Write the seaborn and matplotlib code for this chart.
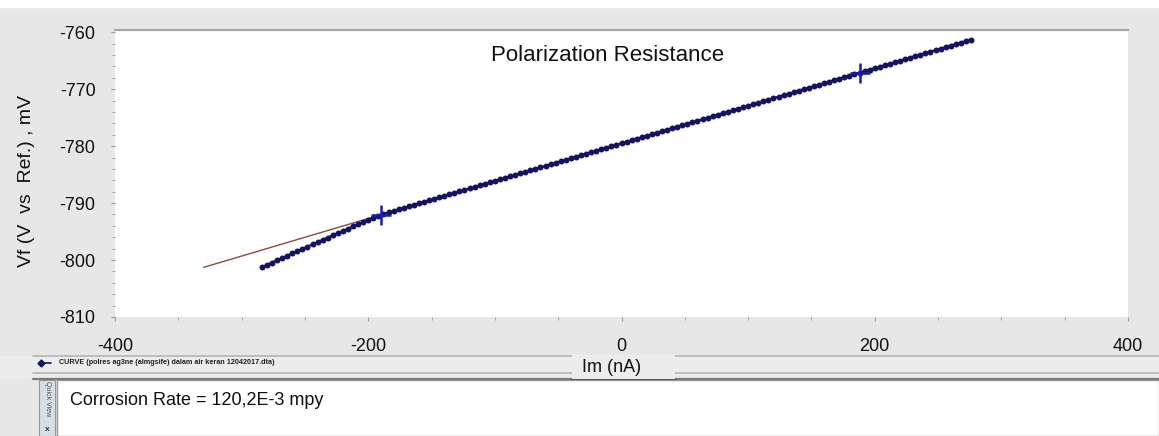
import pandas as pd
import seaborn as sns
import matplotlib.pyplot as plt
from matplotlib.patches import Rectangle
from matplotlib.lines import Line2D

# measured points, current (nA) and potential (mV)
im_na = [
    -284, -280, -276, -272, -268, -264, -260, -256, -252, -248, -244, -240,
    -236, -232, -228, -224, -220, -216, -212, -208, -204, -200, -196, -192,
    -188, -184, -180, -176, -172, -168, -164, -160, -156, -152, -148, -144,
    -140, -136, -132, -128, -124, -120, -116, -112, -108, -104, -100, -96,
    -92, -88, -84, -80, -76, -72, -68, -64, -60, -56, -52, -48,
    -44, -40, -36, -32, -28, -24, -20, -16, -12, -8, -4, 0,
    4, 8, 12, 16, 20, 24, 28, 32, 36, 40, 44, 48,
    52, 56, 60, 64, 68, 72, 76, 80, 84, 88, 92, 96,
    100, 104, 108, 112, 116, 120, 124, 128, 132, 136, 140, 144,
    148, 152, 156, 160, 164, 168, 172, 176, 180, 184, 188, 192,
    196, 200, 204, 208, 212, 216, 220, 224, 228, 232, 236, 240,
    244, 248, 252, 256, 260, 264, 268, 272, 276,
]
vf_mv = [
    -801.24, -800.84, -800.44, -800.03, -799.63, -799.22, -798.83, -798.43,
    -798.03, -797.63, -797.23, -796.84, -796.45, -796.05, -795.66, -795.26,
    -794.87, -794.49, -794.10, -793.72, -793.33, -792.95, -792.59, -792.21,
    -791.91, -791.64, -791.38, -791.12, -790.85, -790.59, -790.32, -790.06,
    -789.80, -789.53, -789.27, -789.00, -788.74, -788.48, -788.21, -787.95,
    -787.68, -787.42, -787.16, -786.89, -786.63, -786.36, -786.10, -785.84,
    -785.57, -785.31, -785.04, -784.78, -784.52, -784.25, -783.99, -783.72,
    -783.46, -783.20, -782.93, -782.67, -782.40, -782.14, -781.88, -781.61,
    -781.35, -781.08, -780.82, -780.56, -780.29, -780.03, -779.76, -779.50,
    -779.24, -778.97, -778.71, -778.44, -778.18, -777.92, -777.65, -777.39,
    -777.12, -776.86, -776.60, -776.33, -776.07, -775.80, -775.54, -775.28,
    -775.01, -774.75, -774.48, -774.22, -773.96, -773.69, -773.43, -773.16,
    -772.90, -772.64, -772.37, -772.11, -771.84, -771.58, -771.32, -771.05,
    -770.79, -770.52, -770.26, -770.00, -769.73, -769.47, -769.20, -768.94,
    -768.68, -768.41, -768.15, -767.88, -767.62, -767.36, -767.09, -766.83,
    -766.56, -766.30, -766.04, -765.77, -765.51, -765.24, -764.98, -764.72,
    -764.45, -764.19, -763.92, -763.66, -763.40, -763.13, -762.87, -762.60,
    -762.34, -762.08, -761.81, -761.55, -761.28,
]

# fitted line and fit range markers
fit_im = [-330, 270]
fit_vf = [-801.28, -761.68]
range_im = [-190, 188]
range_vf = [-792.04, -767.09]

title = "Polarization Resistance"
x_label = "Im (nA)"
y_label = "Vf (V  vs  Ref.) , mV"
x_ticks = [-400, -200, 0, 200, 400]
y_ticks = [-810, -800, -790, -780, -770, -760]
legend_text = "CURVE (polres ag3ne (almgsife) dalam air keran 12042017.dta)"
result_text = "Corrosion Rate = 120,2E-3 mpy"

sns.set_theme(style="white")
plt.rcParams['font.family'] = ['Liberation Sans', 'DejaVu Sans']
plt.rcParams['axes.unicode_minus'] = False

bg = "#e7e7e7"
navy = "#131366"

fig = plt.figure(figsize=(11.59, 4.36), dpi=100, facecolor=bg)
ax = fig.add_axes([115 / 1159, 1 - 317 / 436, 1013 / 1159, 287 / 436])
ax.set_facecolor("white")

pts = pd.DataFrame({"Im": im_na, "Vf": vf_mv})
fit = pd.DataFrame({"Im": fit_im, "Vf": fit_vf})
rng = pd.DataFrame({"Im": range_im, "Vf": range_vf})

sns.lineplot(data=fit, x="Im", y="Vf", ax=ax, color="#8e4a3e", lw=1.0,
             estimator=None, sort=False, zorder=2)
sns.lineplot(data=pts, x="Im", y="Vf", ax=ax, color=navy, lw=1.6,
             marker="o", markersize=4.3, markeredgewidth=0,
             estimator=None, sort=False, zorder=3)
sns.scatterplot(data=rng, x="Im", y="Vf", ax=ax, marker="+", s=190,
                color="#1c1ca6", linewidth=1.8, zorder=4)

ax.set_xlim(-400, 400)
ax.set_ylim(-810, -759.6)
ax.set_xticks(x_ticks)
ax.set_xticks(list(range(-350, 400, 50)), minor=True)
ax.set_yticks(y_ticks)
ax.set_yticks(list(range(-808, -759, 2)), minor=True)
ax.tick_params(axis="both", which="both", direction="out", color="#9a9a9a",
               labelcolor="#111111", labelsize=13)
ax.tick_params(axis="both", which="major", length=3, width=0.8)
ax.tick_params(axis="both", which="minor", length=2, width=0.6)
ax.tick_params(axis="y", which="both", pad=11, left=True)
ax.tick_params(axis="x", which="both", pad=12, bottom=True)
ax.set_xlabel("")
ax.set_ylabel("")
for side in ["left", "right", "bottom"]:
    ax.spines[side].set_visible(False)
ax.spines["top"].set_color("#a8a8a8")
ax.spines["top"].set_linewidth(1.6)

ax.text(0.486, 0.91, title, transform=ax.transAxes, ha="center", va="center",
        fontsize=16, color="#111111")

fig.text(27 / 1159, 1 - 181 / 436, y_label, rotation=90, ha="center",
         va="center", fontsize=14, color="#111111")

# top white strip
fig.patches.append(Rectangle((0, 1 - 7 / 436), 1, 7 / 436,
                             transform=fig.transFigure, color="white", zorder=0))

# legend bar
def hline(y, x0, x1, c, w):
    fig.add_artist(Line2D([x0 / 1159, x1 / 1159], [1 - y / 436, 1 - y / 436],
                          transform=fig.transFigure, color=c, lw=w))

fig.patches.append(Rectangle((0, 1 - 378 / 436), 1, 22 / 436,
                             transform=fig.transFigure, color="#ececec", zorder=0))
hline(356, 33, 1159, "#b4b4b4", 1.2)
hline(373, 33, 1159, "#b4b4b4", 1.2)
hline(379, 33, 1159, "#7a7a7a", 1.6)
fig.patches.append(Rectangle((572 / 1159, 1 - 379 / 436), 103 / 1159, 24 / 436,
                             transform=fig.transFigure, facecolor="#ececec",
                             edgecolor="none", zorder=3))
hline(379, 572, 675, "#555555", 1.4)
fig.text(612 / 1159, 1 - 367 / 436, x_label, ha="center", va="center",
         fontsize=13, color="#111111", zorder=4)

fig.add_artist(Line2D([41 / 1159, 51 / 1159], [1 - 363 / 436, 1 - 363 / 436],
                      transform=fig.transFigure, color=navy, lw=1.2,
                      marker="D", markersize=3.5, markevery=[0]))
fig.text(59 / 1159, 1 - 363 / 436, legend_text, ha="left", va="center",
         fontsize=5.2, fontweight="bold", color="#222222")

# result panel
fig.patches.append(Rectangle((57 / 1159, 0), 1 - 57 / 1159, 56 / 436,
                             transform=fig.transFigure, facecolor="white",
                             edgecolor="#9a9a9a", lw=1.0, zorder=0))
fig.patches.append(Rectangle((39 / 1159, 0), 16 / 1159, 56 / 436,
                             transform=fig.transFigure, facecolor="#d9dde4",
                             edgecolor="#9a9a9a", lw=0.8, zorder=0))
fig.text(47 / 1159, 1 - 399 / 436, "Quick View", rotation=-90, ha="center",
         va="center", fontsize=5, color="#555555")
fig.text(47 / 1159, 1 - 429 / 436, "x", ha="center", va="center",
         fontsize=6, fontweight="bold", color="#333333")
fig.text(70 / 1159, 1 - 400 / 436, result_text, ha="left", va="center",
         fontsize=13, color="#111111")

fig.savefig("out.png", dpi=100, facecolor=bg)
